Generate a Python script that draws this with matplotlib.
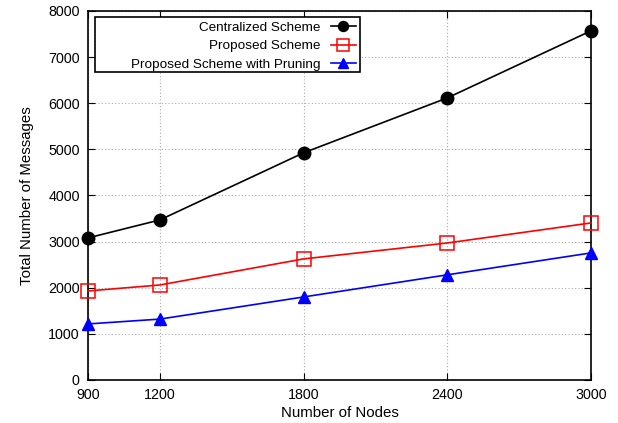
import matplotlib
matplotlib.use("Agg")
import matplotlib.pyplot as plt
from matplotlib.patches import Rectangle

plt.rcParams['font.family'] = ['Liberation Sans', 'DejaVu Sans']

nodes = [900, 1200, 1800, 2400, 3000]
centralized = [3080, 3470, 4925, 6115, 7570]
proposed = [1930, 2060, 2625, 2970, 3405]
pruning = [1215, 1320, 1800, 2280, 2755]

fig = plt.figure(figsize=(6.18, 4.23), dpi=100)
ax = fig.add_axes([0.1424, 0.1017, 0.8139, 0.8723])

ax.plot(nodes, centralized, color='black', marker='o', markersize=9, lw=1.2,
        label='Centralized Scheme', clip_on=False, zorder=3)
ax.plot(nodes, proposed, color='red', marker='s', markersize=10, mfc='none', mew=1.1, lw=1.2,
        label='Proposed Scheme', clip_on=False, zorder=3)
ax.plot(nodes, pruning, color='blue', marker='^', markersize=9, lw=1.2,
        label='Proposed Scheme with Pruning', clip_on=False, zorder=3)

ax.set_xlim(900, 3000)
ax.set_ylim(0, 8000)
ax.set_xticks(nodes)
ax.set_yticks(range(0, 8001, 1000))
ax.tick_params(direction='in', top=True, right=True, length=5, labelsize=10.3, pad=6)
ax.grid(True, linestyle=(0, (1, 2)), color='#aaaaaa', lw=0.8)
ax.set_xlabel('Number of Nodes', fontsize=10.8, labelpad=3)
ax.set_ylabel('Total Number of Messages', fontsize=10.8, labelpad=10)
for s in ax.spines.values():
    s.set_linewidth(1.2)

# legend frame drawn separately so the text can sit right-aligned inside it
ax.add_patch(Rectangle((0.014, 0.835), 0.527, 0.149, transform=ax.transAxes,
                       facecolor='white', edgecolor='black', lw=1.2, zorder=4))
leg = ax.legend(loc='upper right', bbox_to_anchor=(0.541, 0.984), markerfirst=False,
                frameon=False, fontsize=9.7, borderaxespad=0, borderpad=0.32,
                handlelength=1.85, handletextpad=0.75, labelspacing=0.47, markerscale=0.8)
leg.set_zorder(5)
for t in leg.get_texts():
    t.set_ha('right')

fig.savefig('out.png', dpi=100)
